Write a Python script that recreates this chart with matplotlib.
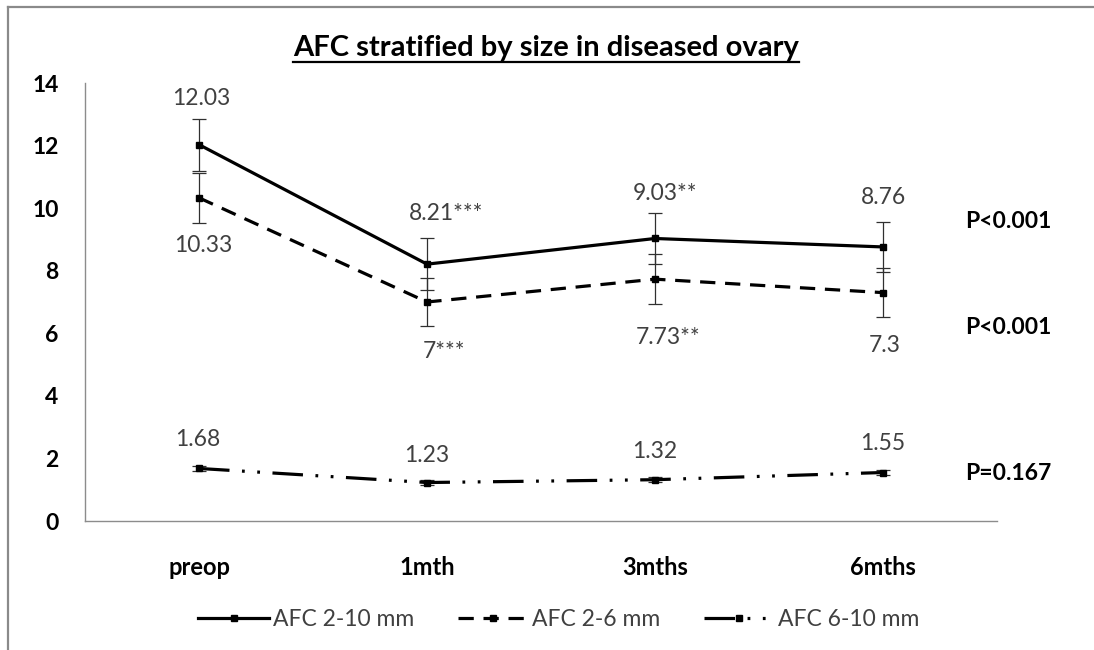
import matplotlib
matplotlib.use("Agg")
import matplotlib.pyplot as plt
from matplotlib.lines import Line2D

plt.rcParams["font.family"] = ["Lato", "DejaVu Sans"]
plt.rcParams["lines.scale_dashes"] = False

# ---- data ----
timepoints = ["preop", "1mth", "3mths", "6mths"]
series_names = ["AFC 2-10 mm", "AFC 2-6 mm", "AFC 6-10 mm"]
afc_2_10 = [12.03, 8.21, 9.03, 8.76]
afc_2_6 = [10.33, 7.0, 7.73, 7.3]
afc_6_10 = [1.68, 1.23, 1.32, 1.55]
se_2_10 = [0.83, 0.83, 0.82, 0.80]
se_2_6 = [0.80, 0.77, 0.80, 0.78]
se_6_10 = [0.09, 0.08, 0.08, 0.07]
stars_2_10 = ["", "***", "**", ""]
stars_2_6 = ["", "***", "**", ""]
stars_6_10 = ["", "", "", ""]
p_values = ["P<0.001", "P<0.001", "P=0.167"]
title = "AFC stratified by size in diseased ovary"

W, H = 1094, 650
fig = plt.figure(figsize=(W / 100, H / 100), dpi=100)
fig.patch.set_facecolor("white")

# plot area in pixels: x 85..997, y 83..521
ax = fig.add_axes([85 / W, 1 - 521 / H, 912 / W, 438 / H])
x = list(range(len(timepoints)))

line_styles = [
    dict(linestyle="-"),
    dict(linestyle=(0, (11, 7))),
    dict(linestyle=(0, (22, 9, 2, 9, 2, 9))),
]
means = [afc_2_10, afc_2_6, afc_6_10]
errs = [se_2_10, se_2_6, se_6_10]
stars = [stars_2_10, stars_2_6, stars_6_10]

handles = []
for m, e, ls, name in zip(means, errs, line_styles, series_names):
    ax.errorbar(x, m, yerr=e, fmt="none", ecolor="#303030", elinewidth=0.9,
                capsize=5, capthick=0.9, zorder=2)
    h, = ax.plot(x, m, color="black", lw=2.3, marker="s", markersize=5,
                 markerfacecolor="black", markeredgecolor="black",
                 label=name, zorder=3, **ls)
    handles.append(h)

# value labels (pixel offsets from each point, horizontal alignment)
label_layout = [
    [(2, 46, "center"), (-18, 51, "left"), (-22, 45, "left"), (1, 49, "center")],
    [(4, -48, "center"), (-4, -49, "left"), (-19, -58, "left"), (2, -53, "center")],
    [(-1, 29, "center"), (0, 27, "center"), (0, 28, "center"), (0, 29, "center")],
]
for m, s, lay in zip(means, stars, label_layout):
    for xi, (v, st, (dx, dy, ha)) in enumerate(zip(m, s, lay)):
        ax.annotate(f"{v:g}{st}", xy=(xi, v), xytext=(dx, dy),
                    textcoords="offset pixels", ha=ha, va="center",
                    fontsize=16.5, color="#404040")

ax.set_xlim(-0.5, len(timepoints) - 0.5)
ax.set_ylim(0, 14)
ax.set_yticks(range(0, 15, 2))
ax.set_xticks(x)
ax.set_xticklabels(timepoints, fontsize=17, fontweight="bold")
ax.tick_params(axis="x", length=0, pad=25)
ax.tick_params(axis="y", length=0, pad=19, labelsize=16.5)
for lbl in ax.get_yticklabels():
    lbl.set_fontweight("bold")
for side in ["top", "right"]:
    ax.spines[side].set_visible(False)
for side in ["left", "bottom"]:
    ax.spines[side].set_color("#8c8c8c")
    ax.spines[side].set_linewidth(1.0)

# significance labels on the right
for p, yc in zip(p_values, [222, 327, 474]):
    fig.text(965 / W, 1 - yc / H, p, ha="left", va="center",
             fontsize=16.5, fontweight="bold", color="black")

# title with underline
t = fig.text(546 / W, 1 - 56 / H, title, ha="center", va="baseline",
             fontsize=21, fontweight="bold", color="black")
fig.canvas.draw()
bb = t.get_window_extent()
uy = 1 - 62 / H
fig.add_artist(Line2D([bb.x0 / W, bb.x1 / W], [uy, uy], color="black",
                      lw=1.6, transform=fig.transFigure))

# legend
fig.legend(handles=handles, loc="center", bbox_to_anchor=(559 / W, 1 - 620 / H),
           ncol=3, frameon=False, fontsize=16.5, handlelength=3.1,
           handletextpad=0.15, columnspacing=1.9, numpoints=1,
           labelcolor="#404040")

# chart frame (left and top edges)
frame_color = "#8a8a8a"
fig.add_artist(Line2D([8 / W, 8 / W], [0, 1 - 7 / H], color=frame_color, lw=1.6,
                      transform=fig.transFigure))
fig.add_artist(Line2D([8 / W, 1], [1 - 7 / H, 1 - 7 / H], color=frame_color, lw=1.6,
                      transform=fig.transFigure))

fig.savefig("out.png", dpi=100, facecolor="white")
